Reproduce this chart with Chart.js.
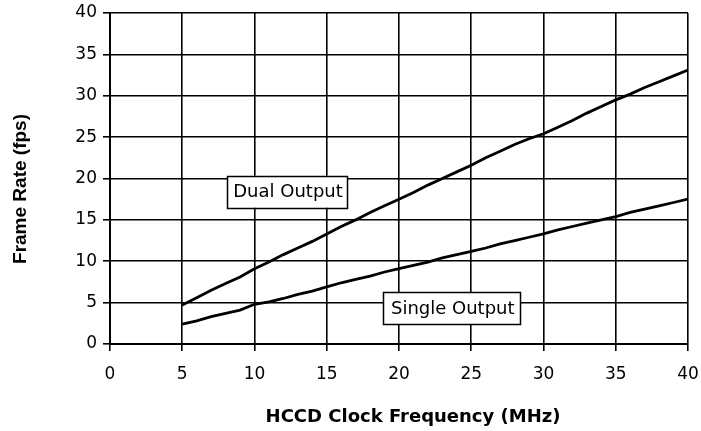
<!DOCTYPE html>
<html>
<head>
<meta charset="utf-8">
<script src="https://cdn.jsdelivr.net/npm/chart.js@4"></script>
<style>
html,body{margin:0;padding:0;background:#fff;}
#wrap{width:701px;height:431px;}
</style>
</head>
<body>
<div id="wrap"><canvas id="c" width="701" height="431"></canvas></div>
<script>
const freq = [5,6,7,8,9,10,11,12,13,14,15,16,17,18,19,20,21,22,23,24,25,26,27,28,29,30,31,32,33,34,35,36,37,38,39,40];
const dualOutput = [4.7,5.6,6.5,7.3,8.1,9.1,9.9,10.8,11.6,12.4,13.3,14.2,15.0,15.9,16.7,17.5,18.3,19.2,20.0,20.8,21.6,22.5,23.3,24.1,24.8,25.4,26.2,27.0,27.9,28.7,29.5,30.2,31.0,31.7,32.4,33.1];
const singleOutput = [2.4,2.8,3.3,3.7,4.1,4.8,5.1,5.5,6.0,6.4,6.9,7.4,7.8,8.2,8.7,9.1,9.5,9.9,10.4,10.8,11.2,11.6,12.1,12.5,12.9,13.3,13.8,14.2,14.6,15.0,15.4,15.9,16.3,16.7,17.1,17.5];
const seriesNames = ["Dual Output","Single Output"];
const xTitle = "HCCD Clock Frequency (MHz)";
const yTitle = "Frame Rate (fps)";

const pts = arr => arr.map((v,i)=>({x:freq[i], y:v}));

const labelsPlugin = {
  id:'seriesLabels',
  afterDraw(chart){
    const ctx = chart.ctx;
    const xs = chart.scales.x, ys = chart.scales.y;
    const boxes = [
      {text:seriesNames[0], x:12.25, y:18.4, w:120},
      {text:seriesNames[1], x:23.65, y:4.35, w:137}
    ];
    ctx.save();
    ctx.font = '18px "DejaVu Sans"';
    boxes.forEach(b=>{
      const cx = xs.getPixelForValue(b.x), cy = ys.getPixelForValue(b.y);
      const h = 32;
      ctx.fillStyle = '#fff';
      ctx.fillRect(cx-b.w/2, cy-h/2, b.w, h);
      ctx.strokeStyle = '#000';
      ctx.lineWidth = 1.5;
      ctx.strokeRect(Math.round(cx-b.w/2)+0.5, Math.round(cy-h/2)+0.5, b.w, h);
      ctx.fillStyle = '#000';
      ctx.textAlign = 'center';
      ctx.textBaseline = 'middle';
      ctx.fillText(b.text, cx+1, cy+1);
    });
    ctx.font = 'bold 18px "DejaVu Sans"';
    ctx.textAlign = 'center';
    ctx.textBaseline = 'alphabetic';
    ctx.fillText(xTitle, 413, 422);
    ctx.save();
    ctx.translate(26, 189);
    ctx.rotate(-Math.PI/2);
    ctx.font = 'bold 19px "Liberation Sans"';
    ctx.fillText(yTitle, 0, 0);
    ctx.restore();
    ctx.restore();
  }
};

new Chart(document.getElementById('c'), {
  type:'line',
  data:{
    datasets:[
      {label:seriesNames[0], data:pts(dualOutput), borderColor:'#000', borderWidth:2.8, pointRadius:0, tension:0, fill:false},
      {label:seriesNames[1], data:pts(singleOutput), borderColor:'#000', borderWidth:2.8, pointRadius:0, tension:0, fill:false}
    ]
  },
  options:{
    responsive:false,
    animation:false,
    events:[],
    layout:{padding:{left:0,right:13,top:13,bottom:0}},
    plugins:{legend:{display:false}, tooltip:{enabled:false}},
    scales:{
      x:{
        type:'linear', min:0, max:40,
        ticks:{stepSize:5, color:'#000', padding:13, font:{family:'"DejaVu Sans"', size:17}},
        grid:{color:'#000', lineWidth:1.6, tickLength:7, drawTicks:true},
        border:{color:'#000', width:2},
        afterFit(s){ s.height = 87; s.paddingLeft = 0; s.paddingRight = 0; }
      },
      y:{
        min:0, max:40,
        ticks:{stepSize:5, color:'#000', padding:6, font:{family:'"DejaVu Sans"', size:17}},
        grid:{color:'#000', lineWidth:1.6, tickLength:7, drawTicks:true},
        border:{color:'#000', width:2},
        afterFit(s){ s.width = 110; s.paddingTop = 0; s.paddingBottom = 0; }
      }
    }
  },
  plugins:[labelsPlugin]
});
</script>
</body>
</html>
